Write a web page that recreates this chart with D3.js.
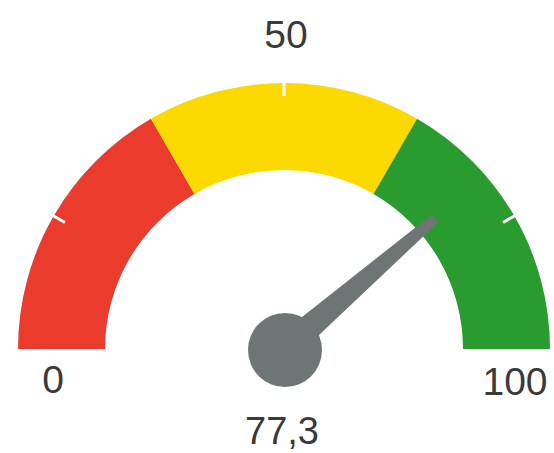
<!DOCTYPE html>
<html>
<head>
<meta charset="utf-8">
<script src="https://cdn.jsdelivr.net/npm/d3@7"></script>
<style>
  html, body { margin: 0; padding: 0; background: #ffffff; }
  svg { display: block; }
</style>
</head>
<body>
<svg id="chart" width="554" height="453"></svg>
<script>
// ---- data ----
const gaugeMin = 0;
const gaugeMax = 100;
const bandStarts = [0, 33.33, 66.67];
const bandEnds = [33.33, 66.67, 100];
const bandColors = ["#eb3b2d", "#fcd900", "#2a9b2e"];
const tickMarks = [16.67, 50, 83.33];
const scaleLabels = ["0", "50", "100"];
const scaleLabelValues = [0, 50, 100];
const needleValue = 77.3;
const valueLabel = "77,3";

// ---- layout ----
const svg = d3.select("#chart");
const cx = 284, cy = 349;
const outerR = 266, innerR = 179;

const angle = d3.scaleLinear().domain([gaugeMin, gaugeMax]).range([-Math.PI / 2, Math.PI / 2]);

const g = svg.append("g").attr("transform", `translate(${cx},${cy})`);

const arc = d3.arc().innerRadius(innerR).outerRadius(outerR);

g.selectAll("path.band")
  .data(bandStarts.map((s, i) => ({ s, e: bandEnds[i], c: bandColors[i] })))
  .join("path")
  .attr("class", "band")
  .attr("d", d => arc({ startAngle: angle(d.s), endAngle: angle(d.e) }))
  .attr("fill", d => d.c);

// tick notches on outer edge
g.selectAll("line.tick")
  .data(tickMarks)
  .join("line")
  .attr("class", "tick")
  .attr("x1", d => Math.sin(angle(d)) * (outerR + 1))
  .attr("y1", d => -Math.cos(angle(d)) * (outerR + 1))
  .attr("x2", d => Math.sin(angle(d)) * (outerR - 13))
  .attr("y2", d => -Math.cos(angle(d)) * (outerR - 13))
  .attr("stroke", "#ffffff")
  .attr("stroke-width", 3);

// needle
const a = angle(needleValue);
const needleLen = 200, baseHalf = 14, tipHalf = 5;
const ux = Math.sin(a), uy = -Math.cos(a);
const px = -uy, py = ux;
const needlePts = [
  [px * baseHalf, py * baseHalf],
  [ux * needleLen + px * tipHalf, uy * needleLen + py * tipHalf],
  [ux * needleLen - px * tipHalf, uy * needleLen - py * tipHalf],
  [-px * baseHalf, -py * baseHalf]
];
g.append("path")
  .attr("d", d3.line()(needlePts) + "Z")
  .attr("fill", "#6f7474");
g.append("circle")
  .attr("cx", 1).attr("cy", 1).attr("r", 37)
  .attr("fill", "#6f7474");

// scale labels
const labelPos = [
  { x: 53, y: 393 },
  { x: 286, y: 48 },
  { x: 515, y: 395 }
];
svg.selectAll("text.scale")
  .data(scaleLabels)
  .join("text")
  .attr("class", "scale")
  .attr("x", (d, i) => labelPos[i].x)
  .attr("y", (d, i) => labelPos[i].y)
  .attr("text-anchor", "middle")
  .attr("font-family", "Liberation Sans, Arial, sans-serif")
  .attr("font-size", 39)
  .attr("fill", "#3a3a3a")
  .text(d => d);

svg.append("text")
  .attr("x", 282).attr("y", 444)
  .attr("text-anchor", "middle")
  .attr("font-family", "Liberation Sans, Arial, sans-serif")
  .attr("font-size", 38)
  .attr("fill", "#3a3a3a")
  .text(valueLabel);
</script>
</body>
</html>
